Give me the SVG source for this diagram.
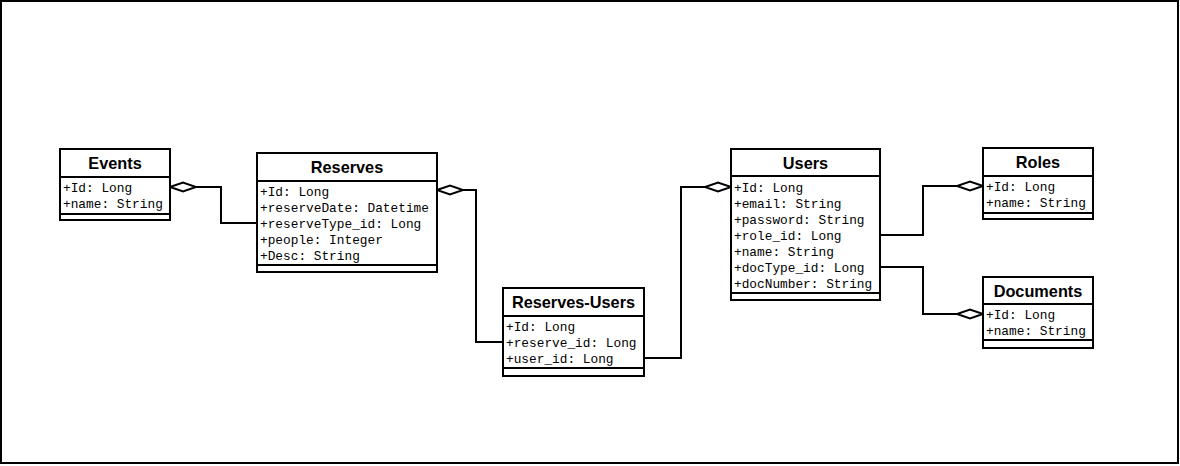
<svg xmlns="http://www.w3.org/2000/svg" width="1180" height="466" viewBox="0 0 1180 466">
<defs>
<style>
.box{fill:#fff;stroke:#000;stroke-width:2}
.div{stroke:#000;stroke-width:2}
.t{font-family:"Liberation Sans",Arial,sans-serif;font-weight:bold;font-size:16.3px;text-anchor:middle;fill:#000}
.a{font-family:"Liberation Mono","Courier New",monospace;font-size:12.8px;fill:#000}
.c{fill:none;stroke:#000;stroke-width:2}
.dm{fill:#fff;stroke:#000;stroke-width:2}
</style>
</defs>
<rect x="0" y="0" width="1180" height="466" fill="#fff"/>
<rect x="1" y="1" width="1177" height="462" fill="none" stroke="#000" stroke-width="2"/>

<g id="connectors">
<path class="c" d="M196,187 H221 V223 H257"/>
<polygon class="dm" points="170,187 183,182.5 196,187 183,191.5"/>
<path class="c" d="M463,190 H476 V342 H503"/>
<polygon class="dm" points="437,190 450,185.5 463,190 450,194.5"/>
<path class="c" d="M644,358 H681 V187 H705"/>
<polygon class="dm" points="731,187 718,182.5 705,187 718,191.5"/>
<path class="c" d="M880,235 H923 V186 H957"/>
<polygon class="dm" points="983,186 970,181.5 957,186 970,190.5"/>
<path class="c" d="M880,267 H923 V314 H957"/>
<polygon class="dm" points="983,314 970,309.5 957,314 970,318.5"/>
</g>

<g id="events">
<rect class="box" x="60" y="149" width="110" height="71"/>
<line class="div" x1="60" y1="177" x2="170" y2="177"/>
<line class="div" x1="60" y1="214" x2="170" y2="214"/>
<text class="t" x="115" y="169">Events</text>
<text class="a" x="63" y="192">+Id: Long</text>
<text class="a" x="63" y="208">+name: String</text>
</g>

<g id="reserves">
<rect class="box" x="257" y="153" width="180" height="119"/>
<line class="div" x1="257" y1="181" x2="437" y2="181"/>
<line class="div" x1="257" y1="265" x2="437" y2="265"/>
<text class="t" x="347" y="173">Reserves</text>
<text class="a" x="260" y="196">+Id: Long</text>
<text class="a" x="260" y="212">+reserveDate: Datetime</text>
<text class="a" x="260" y="228">+reserveType_id: Long</text>
<text class="a" x="260" y="244">+people: Integer</text>
<text class="a" x="260" y="260">+Desc: String</text>
</g>

<g id="reserves-users">
<rect class="box" x="503" y="288" width="141" height="88"/>
<line class="div" x1="503" y1="316" x2="644" y2="316"/>
<line class="div" x1="503" y1="368" x2="644" y2="368"/>
<text class="t" x="573.5" y="308">Reserves-Users</text>
<text class="a" x="506" y="331">+Id: Long</text>
<text class="a" x="506" y="347">+reserve_id: Long</text>
<text class="a" x="506" y="363">+user_id: Long</text>
</g>

<g id="users">
<rect class="box" x="731" y="149" width="149" height="151"/>
<line class="div" x1="731" y1="176" x2="880" y2="176"/>
<line class="div" x1="731" y1="293" x2="880" y2="293"/>
<text class="t" x="805.5" y="169">Users</text>
<text class="a" x="734" y="192">+Id: Long</text>
<text class="a" x="734" y="208">+email: String</text>
<text class="a" x="734" y="224">+password: String</text>
<text class="a" x="734" y="240">+role_id: Long</text>
<text class="a" x="734" y="256">+name: String</text>
<text class="a" x="734" y="272">+docType_id: Long</text>
<text class="a" x="734" y="288">+docNumber: String</text>
</g>

<g id="roles">
<rect class="box" x="983" y="148" width="110" height="71"/>
<line class="div" x1="983" y1="176" x2="1093" y2="176"/>
<line class="div" x1="983" y1="213" x2="1093" y2="213"/>
<text class="t" x="1038" y="168">Roles</text>
<text class="a" x="986" y="191">+Id: Long</text>
<text class="a" x="986" y="207">+name: String</text>
</g>

<g id="documents">
<rect class="box" x="983" y="277" width="110" height="71"/>
<line class="div" x1="983" y1="304" x2="1093" y2="304"/>
<line class="div" x1="983" y1="340" x2="1093" y2="340"/>
<text class="t" x="1038" y="297">Documents</text>
<text class="a" x="986" y="319">+Id: Long</text>
<text class="a" x="986" y="335">+name: String</text>
</g>
</svg>
